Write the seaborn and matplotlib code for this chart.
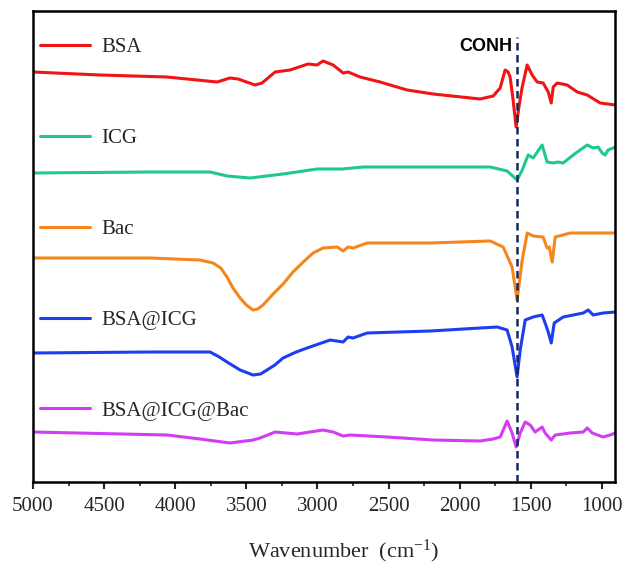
import numpy as np
import pandas as pd
import matplotlib
matplotlib.use("Agg")
import matplotlib.pyplot as plt
import seaborn as sns

# ---- data (wavenumber in cm^-1, offset transmittance in arbitrary units) ----
bsa_wn = [5000, 4529, 4058, 3706, 3615, 3558, 3439, 3390, 3298, 3193, 3066, 3003, 2961, 2890,
          2820, 2785, 2701, 2560, 2370, 2187, 1857, 1765, 1716, 1681, 1660, 1646, 1625, 1604,
          1582, 1561, 1526, 1491, 1456, 1414, 1378, 1357, 1343, 1315, 1245, 1174, 1104, 1013, 907]
bsa_val = [428, 425, 423, 418, 422, 421, 415, 417, 428, 430, 436, 435, 439, 435,
           427, 428, 423, 418, 410, 406, 401, 404, 412, 430, 428, 423, 400, 373,
           395, 413, 435, 425, 418, 417, 408, 397, 413, 417, 415, 408, 405, 397, 395]

icg_wn = [5000, 4177, 3945, 3755, 3636, 3474, 3242, 3003, 2827, 2679, 2208, 1786, 1667, 1597,
          1561, 1519, 1484, 1421, 1386, 1343, 1308, 1273, 1203, 1104, 1062, 1027, 999, 978,
          957, 922, 907]
icg_val = [327, 328, 328, 328, 324, 322, 326, 331, 331, 333, 333, 333, 329, 320,
           330, 345, 342, 355, 338, 337, 338, 337, 345, 355, 352, 353, 347, 345,
           350, 352, 353]

bac_wn = [5000, 4177, 3826, 3734, 3680, 3636, 3594, 3544, 3500, 3453, 3420, 3383, 3312, 3242,
          3172, 3100, 3031, 2961, 2862, 2820, 2785, 2750, 2651, 2208, 1786, 1695, 1632, 1597,
          1561, 1526, 1484, 1414, 1386, 1371, 1350, 1329, 1224, 907]
bac_val = [242, 242, 240, 237, 232, 223, 212, 202, 195, 190, 191, 195, 206, 216,
           228, 238, 247, 252, 253, 249, 253, 252, 257, 257, 259, 253, 233, 200,
           240, 267, 264, 263, 252, 253, 238, 263, 267, 267]

bsaicg_wn = [5000, 4177, 3755, 3690, 3636, 3544, 3453, 3400, 3355, 3300, 3242, 3150, 3073,
             2911, 2820, 2785, 2750, 2651, 2208, 1737, 1667, 1632, 1597, 1575, 1540, 1484,
             1421, 1400, 1378, 1357, 1336, 1273, 1132, 1097, 1062, 992, 907]
bsaicg_val = [147, 148, 148, 143, 138, 130, 125, 126, 130, 135, 142, 148, 152,
              160, 158, 163, 162, 167, 169, 173, 170, 153, 123, 150, 180, 183,
              185, 177, 168, 157, 177, 183, 187, 190, 185, 187, 188]

all_wn = [5000, 4058, 3826, 3615, 3453, 3404, 3298, 3144, 3052, 2961, 2890, 2820, 2771, 2511,
          2187, 1857, 1765, 1716, 1667, 1632, 1604, 1575, 1540, 1505, 1470, 1421, 1400, 1357,
          1329, 1224, 1132, 1104, 1069, 992, 943, 907]
all_val = [68, 65, 61, 57, 60, 62, 68, 66, 68, 70, 68, 64, 65, 63,
           60, 59, 61, 63, 79, 67, 53, 67, 78, 75, 68, 73, 67, 60,
           65, 67, 68, 72, 67, 63, 65, 67]

labels = ["BSA", "ICG", "Bac", "BSA@ICG", "BSA@ICG@Bac"]
colors = ["#f01414", "#1ec98a", "#f5861c", "#1d3ef0", "#d23cf2"]
amide_peak = 1600
tick_vals = [5000, 4500, 4000, 3500, 3000, 2500, 2000, 1500, 1000]

series = [(bsa_wn, bsa_val), (icg_wn, icg_val), (bac_wn, bac_val),
          (bsaicg_wn, bsaicg_val), (all_wn, all_val)]
frames = []
for lab, (w, v) in zip(labels, series):
    frames.append(pd.DataFrame({"wn": w, "val": v, "sample": lab}))
df = pd.concat(frames, ignore_index=True)

# ---- plot ----
sns.set_style("white")
plt.rcParams["font.family"] = ["Liberation Serif", "DejaVu Serif"]
plt.rcParams["mathtext.fontset"] = "custom"
plt.rcParams["mathtext.rm"] = "Liberation Serif"
plt.rcParams["mathtext.it"] = "Liberation Serif:italic"

fig = plt.figure(figsize=(6.27, 5.67), dpi=100)
ax = fig.add_axes([0.0526, 0.1499, 0.9282, 0.8307])

sns.lineplot(data=df, x="wn", y="val", hue="sample", hue_order=labels,
             palette=dict(zip(labels, colors)), sort=False, estimator=None,
             linewidth=2.2, ax=ax)
for ln in ax.get_lines():
    ln.set_solid_joinstyle("round")

ax.axvline(amide_peak, ymin=0, ymax=0.945, color="#14285a", lw=1.8,
           linestyle=(0, (3, 1.8)), zorder=5)
ax.text(1815, 454, "CONH", ha="center", va="center", fontsize=13,
        fontweight="bold", family="Liberation Sans", color="black")

ax.set_xlim(5000, 909)
ax.set_ylim(18, 489)
ax.set_xticks(tick_vals)
ax.set_xticks(np.arange(4750, 900, -500), minor=True)
ax.set_yticks([])
ax.tick_params(axis="x", which="major", direction="out", length=5, width=1.5,
               labelsize=15, pad=6, bottom=True)
ax.tick_params(axis="x", which="minor", direction="out", length=3, width=1.2, bottom=True)
for s in ax.spines.values():
    s.set_linewidth(1.8)
    s.set_color("black")

ax.set_xlabel("Wavenumber  (cm$^{-1}$)", fontsize=16)
ax.xaxis.set_label_coords(0.534, -0.118)
ax.set_ylabel("")

h, l = ax.get_legend_handles_labels()
ax.legend(h, l, loc="upper left", bbox_to_anchor=(0.012, 0.943), frameon=False,
          fontsize=15, handlelength=2.4, handletextpad=0.55, labelspacing=3.42,
          borderpad=0, borderaxespad=0)

fig.savefig("out.png", dpi=100)
